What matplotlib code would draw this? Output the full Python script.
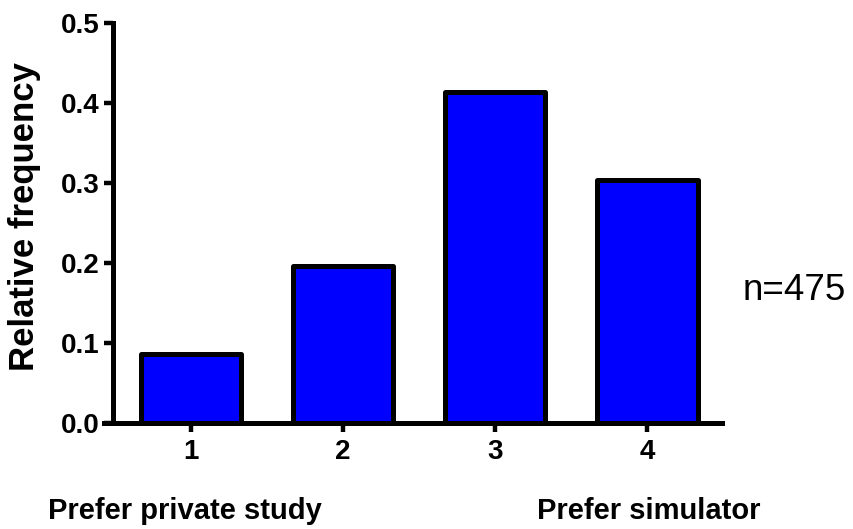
import matplotlib.pyplot as plt

# relative frequency per preference score, n=475
categories = [1, 2, 3, 4]
freq = [0.086, 0.196, 0.413, 0.304]
yticks = [0.0, 0.1, 0.2, 0.3, 0.4, 0.5]
n_label = "n=475"
left_label = "Prefer private study"
right_label = "Prefer simulator"

plt.rcParams['font.family'] = ['Liberation Sans', 'DejaVu Sans']

fig = plt.figure(figsize=(8.54, 5.29), dpi=100)
ax = fig.add_axes([0.1218, 0.2004, 0.7236, 0.7567])

lw = 3.6
ax.bar(categories, freq, width=0.66, color='#0000FF', edgecolor='black',
       linewidth=lw, joinstyle='round', zorder=2)

ax.set_xlim(0.43, 4.49)
ax.set_ylim(0, 0.5)

# prism-like axes
ax.spines['top'].set_visible(False)
ax.spines['right'].set_visible(False)
ax.spines['left'].set_position(('data', 0.49))
ax.spines['left'].set_linewidth(lw)
ax.spines['bottom'].set_linewidth(lw)
ax.spines['left'].set_zorder(3)
ax.spines['bottom'].set_zorder(3)

ax.set_xticks(categories)
ax.set_xticklabels([str(c) for c in categories])
ax.set_yticks(yticks)
ax.set_yticklabels(['%.1f' % v for v in yticks])
ax.tick_params(axis='both', length=6.5, width=3.2, labelsize=20, direction='out')
ax.tick_params(axis='y', pad=3)
ax.tick_params(axis='x', pad=5)
for lab in ax.get_xticklabels() + ax.get_yticklabels():
    lab.set_fontweight('bold')

fig.text(25 / 854, 1 - 217 / 529, 'Relative frequency', rotation=90,
         ha='center', va='center', fontsize=25, fontweight='bold')
fig.text(743 / 854, 1 - 290 / 529, n_label, ha='left', va='center', fontsize=26.5)
fig.text(48 / 854, 1 - 519 / 529, left_label, ha='left', va='baseline',
         fontsize=21, fontweight='bold')
fig.text(537 / 854, 1 - 519 / 529, right_label, ha='left', va='baseline',
         fontsize=21, fontweight='bold')

fig.savefig('out.png', dpi=100)
